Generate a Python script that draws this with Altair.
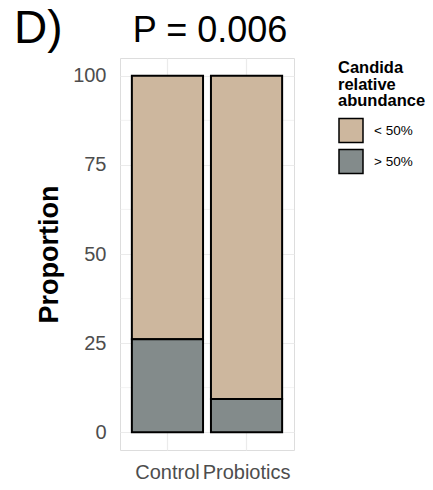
import altair as alt
import pandas as pd

# ---- data ----
groups = ["Control", "Probiotics"]
categories = ["< 50%", "> 50%"]
below_50 = [73.9, 90.7]   # "< 50%" share (%)
above_50 = [26.1, 9.3]    # "> 50%" share (%)
stack_rank = {"> 50%": 0, "< 50%": 1}
colors = ["#CDB79E", "#838B8B"]
y_ticks = [0, 25, 50, 75, 100]
y_minor = [12.5, 37.5, 62.5, 87.5]
panel_label = "D)"
p_value_text = "P = 0.006"

rows = []
for g, lo, hi in zip(groups, below_50, above_50):
    rows.append({"group": g, "cat": "< 50%", "value": lo, "rank": stack_rank["< 50%"]})
    rows.append({"group": g, "cat": "> 50%", "value": hi, "rank": stack_rank["> 50%"]})
df = pd.DataFrame(rows)

FONT = "Liberation Sans"
W, H = 174, 392
LEFT, TOP = 120, 58

yscale = alt.Scale(domain=[-5, 105], nice=False, zero=False)

minor = alt.Chart(pd.DataFrame({"y": y_minor})).mark_rule(
    color="#EBEBEB", strokeWidth=0.6
).encode(
    y=alt.Y("y:Q", scale=yscale),
    x=alt.value(0), x2=alt.value(W),
)

bars = alt.Chart(df).mark_bar(stroke="black", strokeWidth=2).encode(
    x=alt.X(
        "group:N",
        sort=groups,
        scale=alt.Scale(paddingInner=0.1, paddingOuter=0.15),
        axis=alt.Axis(
            title=None, labelAngle=0, labelOverlap=False, labelBound=False,
            labelFontSize=20, labelColor="#4D4D4D", labelFont=FONT,
            labelPadding=12, labelBaseline="top",
            domain=False, ticks=False, tickSize=0,
            grid=True, gridColor="#EBEBEB", gridWidth=1.2, bandPosition=0.5,
        ),
    ),
    y=alt.Y(
        "value:Q", stack="zero", scale=yscale,
        axis=alt.Axis(
            title="Proportion", values=y_ticks,
            titleFontSize=27, titleFontWeight="bold", titleFont=FONT, titleColor="black",
            titleAngle=-90, titleX=-62.5, titleY=H / 2, titleAlign="center",
            titleBaseline="alphabetic",
            labelFontSize=20, labelColor="#4D4D4D", labelFont=FONT, labelPadding=14,
            domain=False, ticks=False, tickSize=0,
            grid=True, gridColor="#EBEBEB", gridWidth=1.2,
        ),
    ),
    fill=alt.Fill(
        "cat:N",
        scale=alt.Scale(domain=categories, range=colors),
        legend=alt.Legend(
            title=["Candida", "relative", "abundance"],
            orient="none", legendX=218, legendY=2,
            titleFontSize=16.5, titleFontWeight="bold", titleFont=FONT, titleColor="black",
            titleLineHeight=16.5, titlePadding=8, titleBaseline="top",
            labelFontSize=13.5, labelFont=FONT, labelColor="black", labelOffset=10,
            symbolType="square", symbolSize=576, symbolStrokeColor="black",
            symbolStrokeWidth=1.5, symbolOpacity=1, rowPadding=1, padding=0,
        ),
    ),
    order=alt.Order("rank:Q"),
)

label = alt.Chart(pd.DataFrame({"t": [panel_label]})).mark_text(
    align="left", baseline="alphabetic", fontSize=46, font=FONT, color="black"
).encode(text="t:N", x=alt.value(14 - LEFT), y=alt.value(42.7 - TOP))

ptext = alt.Chart(pd.DataFrame({"t": [p_value_text]})).mark_text(
    align="center", baseline="alphabetic", fontSize=36, font=FONT, color="black"
).encode(text="t:N", x=alt.value(W / 2 + 3), y=alt.value(41.7 - TOP))

chart = alt.layer(minor, bars, label, ptext).properties(
    width=W, height=H,
    autosize=alt.AutoSizeParams(type="none"),
    padding={"left": LEFT, "top": TOP, "right": 433 - LEFT - W, "bottom": 490 - TOP - H},
).configure_view(stroke=None).configure(background="white")

chart.save("out.html", embed_options={"renderer": "svg", "actions": False})
